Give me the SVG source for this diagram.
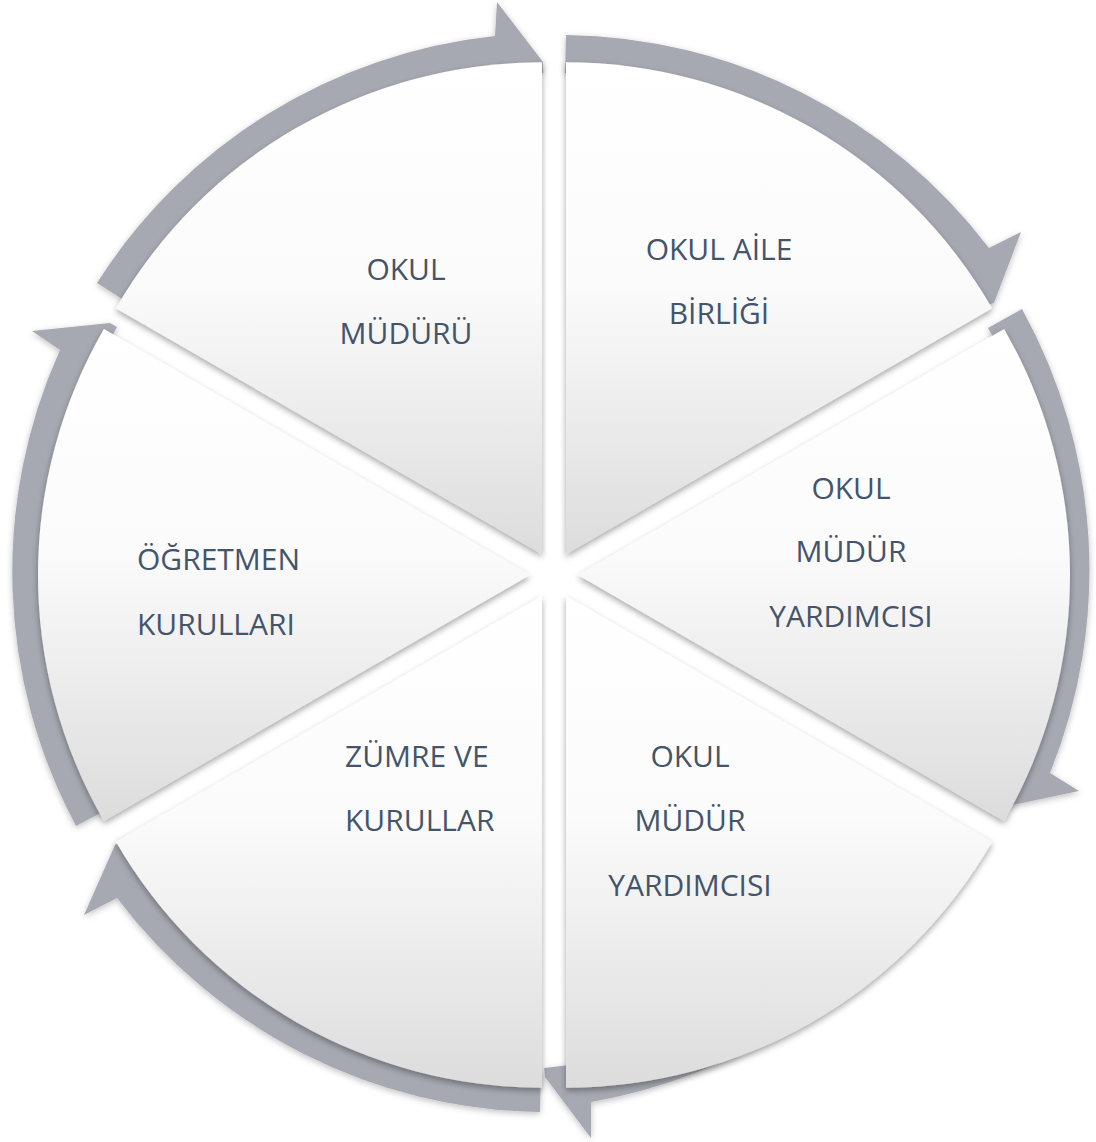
<svg xmlns="http://www.w3.org/2000/svg" width="1096" height="1142" viewBox="0 0 1096 1142">
<defs>
<linearGradient id="g" x1="0" y1="0" x2="0" y2="1">
<stop offset="0" stop-color="#ffffff"/>
<stop offset="0.45" stop-color="#fbfbfb"/>
<stop offset="1" stop-color="#dcdcdc"/>
</linearGradient>
<filter id="sh" x="-10%" y="-10%" width="120%" height="120%">
<feDropShadow dx="0" dy="3" stdDeviation="3" flood-color="#000" flood-opacity="0.35"/>
</filter>
<filter id="ash" x="-10%" y="-10%" width="120%" height="120%">
<feDropShadow dx="0" dy="2" stdDeviation="3" flood-color="#000" flood-opacity="0.25"/>
</filter>
</defs>
<style>
.arc{fill:#a6a9b1;filter:url(#ash)}
.seg{fill:url(#g);filter:url(#sh)}
.t{font-family:"Open Sans","Liberation Sans",sans-serif;font-size:30px;fill:#44546a}
.c{text-anchor:middle}
</style>
<rect width="1096" height="1142" fill="#ffffff"/>
<g id="connectors">
<path class="arc" d="M 97 283 A 539 539 0 0 1 495 36 L 497 2 L 543 62 L 543.3 73 A 500 500 0 0 0 130 304 Z"/>
<path class="arc" d="M 566 35 A 540 540 0 0 1 989 248 L 1021 232 L 994 303 L 976 308 A 500 500 0 0 0 565 73 Z"/>
<path class="arc" d="M 1022 309 A 540 540 0 0 1 1050 773 L 1079 791 L 1008 806 L 995 804 A 500 500 0 0 0 988 328 Z"/>
<path class="arc" d="M 946.9 871.4 A 539 539 0 0 1 591 1102 L 591 1138 L 545 1077 L 544.2 1068 A 500 500 0 0 0 914.5 849.6 Z"/>
<path class="arc" d="M 540 1112 A 540 540 0 0 1 117 898 L 84 915 L 115 845 L 127.5 837 A 500 500 0 0 0 541 1073 Z"/>
<path class="arc" d="M 76.1 826.1 A 539 539 0 0 1 60 350 L 32 331 L 110 323 L 117 327 A 500 500 0 0 0 110.5 807.7 Z"/>
</g>
<g id="node-okul-muduru">
<path class="seg" d="M 542 554.2 L 115.9 308.2 A 492 492 0 0 1 542 62.2 Z"/>
<text class="t c" x="406" y="280">OKUL</text>
<text class="t c" x="406" y="344">MÜDÜRÜ</text>
</g>
<g id="node-okul-aile-birligi">
<path class="seg" d="M 566 554.2 L 566 62.2 A 492 492 0 0 1 992.1 308.2 Z"/>
<text class="t c" x="719" y="260">OKUL AİLE</text>
<text class="t c" x="719" y="324">BİRLİĞİ</text>
</g>
<g id="node-mudur-yardimcisi-1">
<path class="seg" d="M 578 575 L 1004.1 329 A 492 492 0 0 1 1004.1 821 Z"/>
<text class="t c" x="851" y="499">OKUL</text>
<text class="t c" x="851" y="562">MÜDÜR</text>
<text class="t c" x="851" y="627">YARDIMCISI</text>
</g>
<g id="node-mudur-yardimcisi-2">
<path class="seg" d="M 566 595.8 L 992.1 841.8 A 492 492 0 0 1 566 1087.8 Z"/>
<text class="t c" x="690" y="767">OKUL</text>
<text class="t c" x="690" y="831">MÜDÜR</text>
<text class="t c" x="690" y="896">YARDIMCISI</text>
</g>
<g id="node-zumre-ve-kurullar">
<path class="seg" d="M 542 595.8 L 542 1087.8 A 492 492 0 0 1 115.9 841.8 Z"/>
<text class="t" x="345" y="767">ZÜMRE VE</text>
<text class="t" x="345" y="831">KURULLAR</text>
</g>
<g id="node-ogretmen-kurullari">
<path class="seg" d="M 530 575 L 103.9 821 A 492 492 0 0 1 103.9 329 Z"/>
<text class="t" x="137" y="570">ÖĞRETMEN</text>
<text class="t" x="137" y="635">KURULLARI</text>
</g>
</svg>
